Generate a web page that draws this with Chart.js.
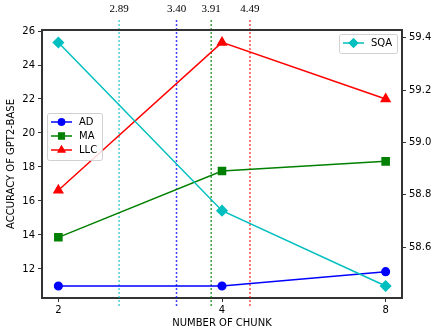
<!DOCTYPE html>
<html>
<head>
<meta charset="utf-8">
<script src="https://cdn.jsdelivr.net/npm/chart.js@4"></script>
<style>
  body { margin: 0; background: #fff; }
  #wrap { width: 432px; height: 336px; }
</style>
</head>
<body>
<div id="wrap"><canvas id="myChart"></canvas></div>
<script>
// chart data
const chunks = ['2', '4', '8'];
const adValues = [11.0, 11.0, 11.84];
const maValues = [13.86, 17.76, 18.33];
const llcValues = [16.63, 25.33, 22.0];
const sqaValues = [59.382, 58.739, 58.451];

const leftTicks = [12, 14, 16, 18, 20, 22, 24, 26];
const rightTicks = [58.6, 58.8, 59.0, 59.2, 59.4];

// vertical marker lines: label and where it sits on the chunk index axis
const markerLabels = ['2.89', '3.40', '3.91', '4.49'];
const markerPos = [0.371, 0.722, 0.934, 1.171];
const markerColors = ['rgba(0,191,191,0.7)', 'rgba(0,0,255,0.75)', 'rgba(0,128,0,0.75)', 'rgba(255,0,0,0.7)'];

const toPoints = arr => arr.map((v, i) => ({ x: i, y: v }));

const tickFont = { family: 'DejaVu Sans', size: 10 };

// draws the dashed marker lines, their labels, top spine and the two legends
const extrasPlugin = {
    id: 'extras',
    beforeDatasetsDraw(chart) {
        const ctx = chart.ctx;
        const area = chart.chartArea;
        const xs = chart.scales.x;
        ctx.save();
        ctx.lineWidth = 1.5;
        ctx.setLineDash([2, 2]);
        markerPos.forEach((p, i) => {
            const px = xs.getPixelForValue(p);
            ctx.strokeStyle = markerColors[i];
            ctx.beginPath();
            ctx.moveTo(px, area.top - 10);
            ctx.lineTo(px, area.bottom + 8);
            ctx.stroke();
        });
        ctx.restore();
    },
    afterDraw(chart) {
        const ctx = chart.ctx;
        const area = chart.chartArea;
        const xs = chart.scales.x;
        ctx.save();
        // labels on top
        ctx.fillStyle = '#000';
        ctx.font = '11px "Liberation Serif"';
        ctx.textAlign = 'center';
        ctx.textBaseline = 'middle';
        markerPos.forEach((p, i) => {
            ctx.fillText(markerLabels[i], xs.getPixelForValue(p), 9);
        });
        // top spine
        ctx.strokeStyle = '#333';
        ctx.lineWidth = 2;
        ctx.beginPath();
        ctx.moveTo(area.left - 1, area.top);
        ctx.lineTo(area.right + 1, area.top);
        ctx.stroke();

        // legends
        const ds = chart.data.datasets;
        drawLegend(ctx, [ds[0], ds[1], ds[2]], area.left + 5, area.top + 83, 55, 14);
        drawLegend(ctx, [ds[3]], area.right - 63, area.top + 4, 58, 14);
        ctx.restore();
    }
};

function drawLegend(ctx, items, x, y, w, rowH) {
    const h = items.length * rowH + 5;
    ctx.save();
    ctx.fillStyle = 'rgba(255,255,255,0.85)';
    ctx.strokeStyle = 'rgba(204,204,204,0.9)';
    ctx.lineWidth = 1;
    ctx.beginPath();
    ctx.roundRect(x + 0.5, y + 0.5, w, h, 2);
    ctx.fill();
    ctx.stroke();
    items.forEach((d, i) => {
        const cy = y + 9 + i * rowH;
        ctx.strokeStyle = d.borderColor;
        ctx.lineWidth = 1.5;
        ctx.beginPath();
        ctx.moveTo(x + 4, cy);
        ctx.lineTo(x + 25, cy);
        ctx.stroke();
        ctx.fillStyle = d.backgroundColor;
        Chart.helpers.drawPoint(ctx, {
            pointStyle: d.pointStyle,
            radius: d.pointRadius,
            rotation: 0,
            borderWidth: 0
        }, x + 14.5, cy);
        ctx.fill();
        ctx.fillStyle = '#000';
        ctx.font = '10px "DejaVu Sans"';
        ctx.textAlign = 'left';
        ctx.textBaseline = 'middle';
        ctx.fillText(d.label, x + 32, cy);
    });
    ctx.restore();
}

const ctx = document.getElementById('myChart').getContext('2d');

new Chart(ctx, {
    type: 'line',
    data: {
        datasets: [
            {
                label: 'AD',
                data: toPoints(adValues),
                borderColor: '#0000ff',
                backgroundColor: '#0000ff',
                pointStyle: 'circle',
                pointRadius: 3.8,
                borderWidth: 1.5,
                yAxisID: 'y',
                order: 3
            },
            {
                label: 'MA',
                data: toPoints(maValues),
                borderColor: '#008000',
                backgroundColor: '#008000',
                pointStyle: 'rect',
                pointRadius: 5,
                borderWidth: 1.5,
                yAxisID: 'y',
                order: 2
            },
            {
                label: 'LLC',
                data: toPoints(llcValues),
                borderColor: '#ff0000',
                backgroundColor: '#ff0000',
                pointStyle: 'triangle',
                pointRadius: 5,
                borderWidth: 1.5,
                yAxisID: 'y',
                order: 1
            },
            {
                label: 'SQA',
                data: toPoints(sqaValues),
                borderColor: '#00bfbf',
                backgroundColor: '#00bfbf',
                pointStyle: 'rectRot',
                pointRadius: 5,
                borderWidth: 1.5,
                yAxisID: 'y2',
                order: 0
            }
        ]
    },
    options: {
        responsive: true,
        maintainAspectRatio: false,
        animation: false,
        layout: { padding: { top: 30, left: 0, right: 0, bottom: 0 } },
        elements: {
            line: { tension: 0, fill: false },
            point: { borderWidth: 0, hoverRadius: 5 }
        },
        plugins: {
            legend: { display: false },
            tooltip: { enabled: false }
        },
        scales: {
            x: {
                type: 'linear',
                position: 'bottom',
                min: -0.1,
                max: 2.1,
                afterBuildTicks: s => { s.ticks = chunks.map((c, i) => ({ value: i })); },
                afterFit: s => { s.height = 38; },
                ticks: {
                    callback: v => chunks[v],
                    font: tickFont,
                    color: '#000',
                    padding: 2,
                    maxRotation: 0
                },
                grid: { drawOnChartArea: false, drawTicks: true, tickLength: 4, color: '#333', tickWidth: 1 },
                border: { display: true, color: '#333', width: 2 },
                title: {
                    display: true,
                    text: 'NUMBER OF CHUNK',
                    font: tickFont,
                    color: '#000',
                    padding: { top: 0, bottom: 7 }
                }
            },
            y: {
                position: 'left',
                min: 10.29,
                max: 26.06,
                afterBuildTicks: s => { s.ticks = leftTicks.map(v => ({ value: v })); },
                afterFit: s => { s.width = 42; },
                ticks: { font: tickFont, color: '#000', padding: 3 },
                grid: { drawOnChartArea: false, drawTicks: true, tickLength: 4, color: '#333' },
                border: { display: true, color: '#333', width: 2 },
                title: {
                    display: true,
                    text: 'ACCURACY OF GPT2-BASE',
                    font: tickFont,
                    color: '#000',
                    padding: { top: 5, bottom: 0 }
                }
            },
            y2: {
                position: 'right',
                min: 58.405,
                max: 59.43,
                afterBuildTicks: s => { s.ticks = rightTicks.map(v => ({ value: v })); },
                afterFit: s => { s.width = 30; },
                ticks: { font: tickFont, color: '#000', padding: 3, callback: v => v.toFixed(1) },
                grid: { drawOnChartArea: false, drawTicks: true, tickLength: 4, color: '#333' },
                border: { display: true, color: '#333', width: 2 }
            }
        }
    },
    plugins: [extrasPlugin]
});
</script>
</body>
</html>
